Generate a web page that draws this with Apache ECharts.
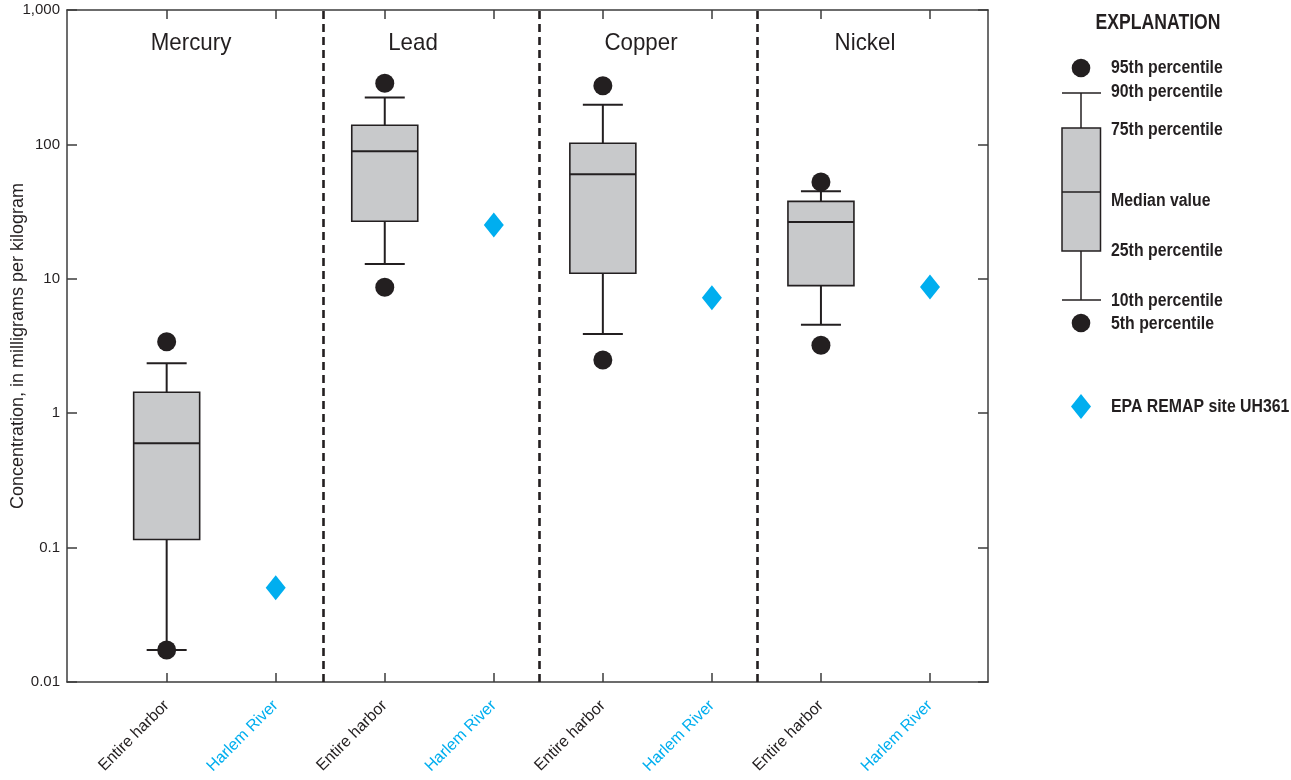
<!DOCTYPE html>
<html>
<head>
<meta charset="utf-8">
<script src="https://cdn.jsdelivr.net/npm/echarts@6/dist/echarts.min.js"></script>
<style>
  html, body { margin: 0; padding: 0; background: #fff; }
  #chart { width: 1291px; height: 780px; }
</style>
</head>
<body>
<div id="chart"></div>
<script>
// Trace-metal concentrations in bottom sediment, mg/kg
const metals = ['Mercury', 'Lead', 'Copper', 'Nickel'];
const siteNames = ['Entire harbor', 'Harlem River'];
const p5     = [0.0173, 8.64, 2.49, 3.20];
const p10    = [0.0173, 12.9, 3.88, 4.56];
const p25    = [0.115, 26.8, 11.0, 8.89];
const median = [0.597, 88.9, 59.9, 26.5];
const p75    = [1.43, 138.7, 102, 37.7];
const p90    = [2.35, 223, 197, 44.8];
const p95    = [3.40, 285, 273, 52.5];
const remapUH361 = [0.0503, 25.1, 7.23, 8.69];
const yTickLabels = { 0.01: '0.01', 0.1: '0.1', 1: '1', 10: '10', 100: '100', 1000: '1,000' };

// layout
const INK = '#231f20';
const BOX_FILL = '#c8c9cb';
const CYAN = '#00aeef';
const FONT = '"Liberation Sans", Arial, sans-serif';
const BOX_HALF = 33;
const CAP_HALF = 20;
const X_MIN = 0.086, X_MAX = 8.532;
const groupDividers = [2.435, 4.417, 6.425];

const harborX = metals.map((_, i) => 2 * i + 1);
const riverX = metals.map((_, i) => 2 * i + 2);
const slotValues = [...harborX, ...riverX].sort((a, b) => a - b);

const boxData = metals.map((_, i) => [harborX[i], p10[i], p25[i], median[i], p75[i], p90[i]]);
const outerData = metals.flatMap((_, i) => [[harborX[i], p5[i]], [harborX[i], p95[i]]]);
const remapData = metals.map((_, i) => [riverX[i], remapUH361[i]]);

function renderBox(params, api) {
  const x = api.value(0);
  const y10 = api.coord([x, api.value(1)])[1];
  const y25 = api.coord([x, api.value(2)])[1];
  const c50 = api.coord([x, api.value(3)]);
  const y75 = api.coord([x, api.value(4)])[1];
  const y90 = api.coord([x, api.value(5)])[1];
  const cx = c50[0];
  const seg = (x1, y1, x2, y2) => ({
    type: 'line', shape: { x1, y1, x2, y2 },
    style: { stroke: INK, lineWidth: 2 }
  });
  return {
    type: 'group',
    children: [
      seg(cx, y10, cx, y25),
      seg(cx, y75, cx, y90),
      seg(cx - CAP_HALF, y10, cx + CAP_HALF, y10),
      seg(cx - CAP_HALF, y90, cx + CAP_HALF, y90),
      {
        type: 'rect',
        shape: { x: cx - BOX_HALF, y: y75, width: 2 * BOX_HALF, height: y25 - y75 },
        style: { fill: BOX_FILL, stroke: INK, lineWidth: 1.6 }
      },
      seg(cx - BOX_HALF, c50[1], cx + BOX_HALF, c50[1])
    ]
  };
}

const axisLineStyle = { color: '#3c3c3c', width: 1.5 };

// narrow text: horizontally squeezed label anchored at (x, y)
const narrowText = (text, x, y, size, weight, sx, align) => ({
  type: 'text', x, y, scaleX: sx, scaleY: 1,
  style: {
    text, x: 0, y: 0, fill: INK,
    font: `${weight} ${size}px ${FONT}`,
    align: align || 'left', verticalAlign: 'middle'
  }
});

// explanation panel
const LX = 1081;
const legendLabel = (text, y) => narrowText(text, 1111, y, 18, 'bold', 0.88);
const explanation = [
  narrowText('EXPLANATION', 1158, 23, 22, 'bold', 0.8, 'center'),
  { type: 'circle', shape: { cx: LX, cy: 68, r: 9.3 }, style: { fill: INK } },
  { type: 'line', shape: { x1: 1062, y1: 93, x2: 1101, y2: 93 }, style: { stroke: INK, lineWidth: 1.5 } },
  { type: 'line', shape: { x1: LX, y1: 93, x2: LX, y2: 128 }, style: { stroke: INK, lineWidth: 1.5 } },
  { type: 'rect', shape: { x: 1062, y: 128, width: 38.5, height: 123 }, style: { fill: BOX_FILL, stroke: INK, lineWidth: 1.5 } },
  { type: 'line', shape: { x1: 1062, y1: 192, x2: 1100.5, y2: 192 }, style: { stroke: INK, lineWidth: 1.5 } },
  { type: 'line', shape: { x1: LX, y1: 251, x2: LX, y2: 300 }, style: { stroke: INK, lineWidth: 1.5 } },
  { type: 'line', shape: { x1: 1062, y1: 300, x2: 1101, y2: 300 }, style: { stroke: INK, lineWidth: 1.5 } },
  { type: 'circle', shape: { cx: LX, cy: 323, r: 9.3 }, style: { fill: INK } },
  { type: 'polygon', shape: { points: [[LX, 394], [LX + 10, 406.5], [LX, 419], [LX - 10, 406.5]] }, style: { fill: CYAN } },
  legendLabel('95th percentile', 68),
  legendLabel('90th percentile', 92),
  legendLabel('75th percentile', 130),
  legendLabel('Median value', 201),
  legendLabel('25th percentile', 251),
  legendLabel('10th percentile', 301),
  legendLabel('5th percentile', 324),
  legendLabel('EPA REMAP site UH361', 407)
];

// metal names above each panel
const titlePx = [191, 413, 641, 865];
const titles = metals.map((m, i) => narrowText(m, titlePx[i], 43, 24, 'normal', 0.93, 'center'));

const chart = echarts.init(document.getElementById('chart'), null, { renderer: 'canvas' });
chart.setOption({
  animation: false,
  backgroundColor: '#fff',
  grid: { left: 67, right: 303, top: 10, bottom: 98, show: false, containLabel: false, outerBoundsMode: 'none' },
  xAxis: [
    {
      type: 'value', min: X_MIN, max: X_MAX, position: 'bottom',
      splitLine: { show: false },
      axisLine: { show: true, onZero: false, lineStyle: axisLineStyle },
      axisTick: { show: true, inside: true, length: 9, customValues: slotValues, lineStyle: axisLineStyle },
      axisLabel: {
        show: true, customValues: slotValues, rotate: 45, margin: 21,
        formatter: v => (Math.round(v) % 2 === 1 ? `{e|${siteNames[0]}}` : `{h|${siteNames[1]}}`),
        rich: {
          e: { color: INK, fontFamily: FONT, fontSize: 16 },
          h: { color: CYAN, fontFamily: FONT, fontSize: 16 }
        }
      }
    },
    {
      type: 'value', min: X_MIN, max: X_MAX, position: 'top',
      splitLine: { show: false },
      axisLine: { show: true, onZero: false, lineStyle: axisLineStyle },
      axisTick: { show: true, inside: true, length: 9, customValues: slotValues, lineStyle: axisLineStyle },
      axisLabel: { show: false }
    }
  ],
  yAxis: [
    {
      type: 'log', logBase: 10, min: 0.01, max: 1000, position: 'left',
      name: 'Concentration, in milligrams per kilogram',
      nameLocation: 'middle', nameGap: 40, nameRotate: 90, nameMoveOverlap: false,
      nameTextStyle: { fontFamily: FONT, fontSize: 18, color: INK },
      splitLine: { show: false },
      axisLine: { show: true, onZero: false, lineStyle: axisLineStyle },
      axisTick: { show: true, inside: true, length: 10, lineStyle: axisLineStyle },
      axisLabel: {
        margin: 7, fontFamily: FONT, fontSize: 15, color: INK,
        formatter: v => yTickLabels[+v.toPrecision(3)] ?? ''
      }
    },
    {
      type: 'log', logBase: 10, min: 0.01, max: 1000, position: 'right',
      splitLine: { show: false },
      axisLine: { show: true, onZero: false, lineStyle: axisLineStyle },
      axisTick: { show: true, inside: true, length: 10, lineStyle: axisLineStyle },
      axisLabel: { show: false }
    }
  ],
  graphic: [...titles, ...explanation],
  series: [
    {
      name: 'Entire harbor',
      type: 'custom',
      renderItem: renderBox,
      encode: { x: 0, y: [1, 2, 3, 4, 5] },
      data: boxData,
      clip: false,
      z: 2,
      markLine: {
        silent: true, symbol: 'none', animation: false,
        label: { show: false },
        lineStyle: { color: INK, width: 2.6, type: [8, 5] },
        data: groupDividers.map(v => ({ xAxis: v }))
      }
    },
    {
      name: '5th and 95th percentiles',
      type: 'scatter',
      symbol: 'circle', symbolSize: 19,
      itemStyle: { color: INK, opacity: 1 },
      data: outerData,
      z: 4
    },
    {
      name: 'EPA REMAP site UH361',
      type: 'scatter',
      symbol: 'diamond', symbolSize: [20, 25],
      itemStyle: { color: CYAN, opacity: 1 },
      data: remapData,
      z: 4
    }
  ]
});
</script>
</body>
</html>
